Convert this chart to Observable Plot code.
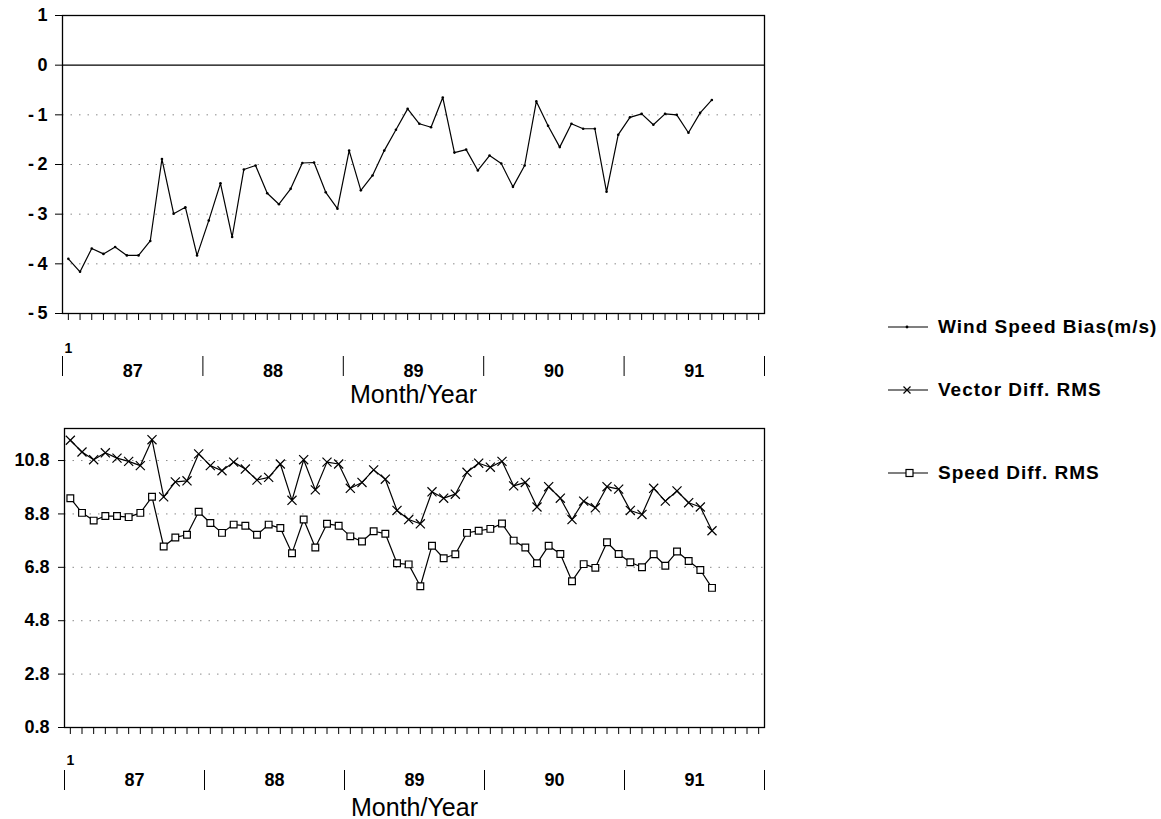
<!DOCTYPE html>
<html><head><meta charset="utf-8">
<script src="https://cdn.jsdelivr.net/npm/d3@7"></script>
<script src="https://cdn.jsdelivr.net/npm/@observablehq/plot@0.6"></script>
<style>
body{margin:0;background:#fff;}
#wrap{position:relative;width:1161px;height:819px;overflow:hidden;background:#fff;font-family:"Liberation Sans",Arial,sans-serif;}
#top,#bot{position:absolute;left:0;}
#top{top:0;} #bot{top:410px;}
.lg{position:absolute;left:886px;height:24px;display:flex;align-items:center;}
.lg span{font:bold 19px "Liberation Sans",Arial,sans-serif;letter-spacing:1px;margin-left:8px;color:#000;white-space:nowrap;}
</style></head><body>
<div id="wrap"><div id="top"></div><div id="bot"></div>
<div class="lg" style="top:315px"><svg width="44" height="24"><line x1="2" x2="42" y1="12" y2="12" stroke="#000" stroke-width="1.2"/><circle cx="21" cy="12" r="1.4" fill="#000"/></svg><span>Wind Speed Bias(m/s)</span></div>
<div class="lg" style="top:378px"><svg width="44" height="24"><line x1="2" x2="42" y1="12" y2="12" stroke="#000" stroke-width="1.2"/><path d="M17.5,8.5L24.5,15.5M24.5,8.5L17.5,15.5" stroke="#000" stroke-width="1.2"/></svg><span>Vector Diff. RMS</span></div>
<div class="lg" style="top:461px"><svg width="44" height="24"><line x1="2" x2="42" y1="12" y2="12" stroke="#000" stroke-width="1.2"/><rect x="20" y="8.5" width="7" height="7" fill="#fff" stroke="#000" stroke-width="1.2"/></svg><span>Speed Diff. RMS</span></div>
</div>
<script>
// ---- data ----
const months = d3.range(1, 57);
const windBias = [-3.90,-4.16,-3.69,-3.80,-3.66,-3.83,-3.83,-3.54,-1.89,-2.99,
  -2.86,-3.83,-3.13,-2.38,-3.46,-2.10,-2.02,-2.58,-2.80,-2.49,
  -1.97,-1.96,-2.56,-2.89,-1.72,-2.52,-2.22,-1.72,-1.30,-0.88,
  -1.18,-1.25,-0.65,-1.76,-1.70,-2.12,-1.82,-1.98,-2.45,-2.02,
  -0.73,-1.22,-1.65,-1.18,-1.28,-1.28,-2.55,-1.40,-1.05,-0.98,
  -1.20,-0.98,-1.00,-1.36,-0.96,-0.70];
const vectorRms = [11.56,11.12,10.83,11.09,10.89,10.77,10.61,11.58,9.44,10.00,
  10.04,11.05,10.61,10.42,10.74,10.48,10.07,10.17,10.67,9.31,
  10.83,9.70,10.74,10.67,9.76,9.98,10.45,10.10,8.93,8.59,
  8.43,9.63,9.39,9.54,10.36,10.70,10.55,10.77,9.85,9.98,
  9.06,9.82,9.39,8.59,9.28,9.03,9.82,9.73,8.93,8.78,
  9.76,9.28,9.66,9.22,9.06,8.17];
const speedRms = [9.39,8.84,8.55,8.72,8.72,8.68,8.84,9.44,7.58,7.92,
  8.02,8.88,8.46,8.09,8.40,8.36,8.02,8.40,8.27,7.33,
  8.59,7.54,8.43,8.36,7.96,7.77,8.15,8.06,6.95,6.91,
  6.09,7.61,7.14,7.29,8.09,8.17,8.24,8.44,7.80,7.54,
  6.95,7.61,7.30,6.28,6.92,6.78,7.74,7.30,6.99,6.80,
  7.29,6.86,7.39,7.04,6.70,6.03];
const yearLabels = ["87","88","89","90","91"];
const yearMid = [6.5, 18.5, 30.5, 42.5, 54.5];
const yearBounds = [0.5, 12.5, 24.5, 36.5, 48.5, 60.5];
const monthTicks = d3.range(1, 61);
const biasTicks = [1, 0, -1, -2, -3, -4, -5];
const biasGrid = [-1, -2, -3, -4];
const rmsTicks = [0.8, 2.8, 4.8, 6.8, 8.8, 10.8];
const rmsGrid = [2.8, 4.8, 6.8, 8.8, 10.8];
const firstMonth = ["1"];
const xTitle = ["Month/Year"];

const FONT = '"Liberation Sans", Arial, sans-serif';
const fmtNeg = d => d < 0 ? "-\u2009" + Math.abs(d) : String(d);
const fmt1 = d3.format(".1f");

function xDecor(oneDy, yearDy, titleDy) {
  return [
    Plot.axisX(monthTicks, {tickSize: 7, tickFormat: () => "", strokeWidth: 1}),
    Plot.axisX(yearBounds, {tickSize: 20, dy: 43, tickFormat: () => "", strokeWidth: 1}),
    Plot.text(firstMonth, {x: [1], text: d => d, frameAnchor: "bottom", lineAnchor: "middle", dy: oneDy, fontSize: 14, fontWeight: "bold", fontFamily: FONT}),
    Plot.text(yearLabels, {x: (d, i) => yearMid[i], text: d => d, frameAnchor: "bottom", lineAnchor: "middle", dy: yearDy, fontSize: 18, fontWeight: "bold", fontFamily: FONT, letterSpacing: 2}),
    Plot.text(xTitle, {text: d => d, frameAnchor: "bottom", lineAnchor: "middle", dy: titleDy, fontSize: 25, fontFamily: FONT, letterSpacing: 1.4})
  ];
}

const topPlot = Plot.plot({
  width: 780, height: 410,
  marginTop: 15, marginBottom: 97, marginLeft: 62, marginRight: 16,
  style: {fontFamily: FONT, background: "transparent", overflow: "visible", color: "#000"},
  x: {domain: [0.5, 60.5]},
  y: {domain: [-5, 1]},
  marks: [
    Plot.ruleY(biasGrid, {stroke: "#8a8a8a", strokeDasharray: "1.5,7", strokeWidth: 1}),
    Plot.ruleY([0], {stroke: "#000", strokeWidth: 1.3}),
    Plot.frame({stroke: "#000", strokeWidth: 1.3}),
    Plot.axisY(biasTicks, {tickSize: 7, tickPadding: 8, tickFormat: fmtNeg, fontSize: 18, fontWeight: "bold", fontFamily: FONT}),
    ...xDecor(35, 58, 81),
    Plot.line(months, {x: d => d, y: (d, i) => windBias[i], stroke: "#000", strokeWidth: 1.2}),
    Plot.dot(months, {x: d => d, y: (d, i) => windBias[i], r: 1.3, fill: "#000"})
  ]
});
document.getElementById("top").appendChild(topPlot);

const botPlot = Plot.plot({
  width: 780, height: 409,
  marginTop: 18, marginBottom: 92, marginLeft: 64, marginRight: 16,
  style: {fontFamily: FONT, background: "transparent", overflow: "visible", color: "#000"},
  x: {domain: [0.5, 60.5]},
  y: {domain: [0.8, 12]},
  marks: [
    Plot.ruleY(rmsGrid, {stroke: "#8a8a8a", strokeDasharray: "1.5,7", strokeWidth: 1}),
    Plot.frame({stroke: "#000", strokeWidth: 1.3}),
    Plot.axisY(rmsTicks, {tickSize: 6, tickPadding: 9, tickFormat: fmt1, fontSize: 18, fontWeight: "bold", fontFamily: FONT, letterSpacing: 0.5}),
    ...xDecor(33, 53, 80),
    Plot.line(months, {x: d => d, y: (d, i) => vectorRms[i], stroke: "#000", strokeWidth: 1.2}),
    Plot.dot(months, {x: d => d, y: (d, i) => vectorRms[i], symbol: "times", r: 4.2, stroke: "#000", strokeWidth: 1.2}),
    Plot.line(months, {x: d => d, y: (d, i) => speedRms[i], stroke: "#000", strokeWidth: 1.2}),
    Plot.dot(months, {x: d => d, y: (d, i) => speedRms[i], symbol: "square", r: 3.8, fill: "#fff", stroke: "#000", strokeWidth: 1.2})
  ]
});
document.getElementById("bot").appendChild(botPlot);
</script>
</body></html>
